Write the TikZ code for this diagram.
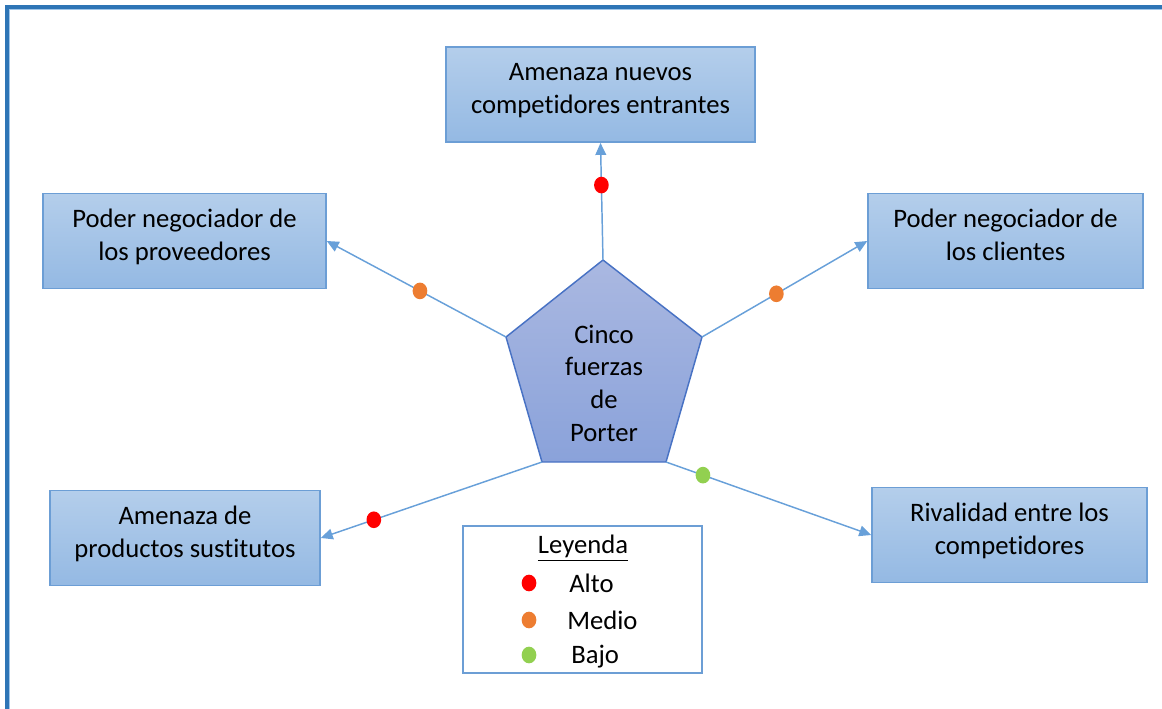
\documentclass[tikz,border=0pt]{standalone}
\usepackage{fontspec}
\setmainfont{Carlito}[Ligatures={NoCommon,NoContextual},Contextuals=NoAlternate]
\usetikzlibrary{arrows.meta,shapes.geometric}
\definecolor{boxtop}{RGB}{180,206,235}
\definecolor{boxbot}{RGB}{148,185,227}
\definecolor{boxline}{RGB}{108,158,213}
\definecolor{pentop}{RGB}{170,184,225}
\definecolor{penbot}{RGB}{138,162,218}
\definecolor{penline}{RGB}{72,114,196}
\definecolor{conector}{RGB}{104,160,217}
\definecolor{marco}{RGB}{46,117,182}
\definecolor{marcoclaro}{RGB}{160,197,232}
\definecolor{alto}{RGB}{255,0,0}
\definecolor{medio}{RGB}{237,125,49}
\definecolor{bajo}{RGB}{146,208,80}

\begin{document}
\begin{tikzpicture}[x=0.75pt,y=-0.75pt,
	texto/.style={align=center,inner sep=0pt,font=\fontsize{20}{24.5}\selectfont},
	fuerza/.style={texto,rectangle,draw=boxline,line width=1.1pt,top color=boxtop,bottom color=boxbot,minimum height=71.5pt,execute at end node={\rule[-9pt]{0pt}{1pt}}},
	pentagono/.style={draw=penline,line width=1.1pt,top color=pentop,bottom color=penbot,line join=round},
	flecha/.style={draw=conector,line width=1.1pt,-{Triangle[length=9pt,width=8pt]}},
	punto/.style={ellipse,inner sep=0pt,minimum width=11pt,minimum height=12.5pt},
	leyenda/.style={rectangle,draw=boxline,line width=1.1pt,fill=white}]
				\useasboundingbox (0,0) rectangle (1162,709);
				% marco
				\draw[marcoclaro,line width=0.9pt] (9.8,709) -- (9.8,9.8) -- (1162,9.8);
				\draw[marco,line width=2.6pt] (6.8,709) -- (6.8,6.8) -- (1162,6.8);
				
				\coordinate (p1) at (603,260);%arriba
				\coordinate (p2) at (702,337);%derecha
				\coordinate (p3) at (666,462);%abajo derecha
				\coordinate (p4) at (542,462);%abajo izquierda
				\coordinate (p5) at (506,337);%izquierda
				\path[pentagono] (p1) -- (p2) -- (p3) -- (p4) -- (p5) -- cycle;
				\node[texto] (porter) at (604,383) {Cinco\\fuerzas\\de\\Porter};
				
				\node[fuerza,minimum width=231.75pt] (entrantes) at (600.5,94.5) {Amenaza nuevos\\competidores entrantes};
				\node[fuerza,minimum width=212.25pt] (proveedores) at (184.5,241) {Poder negociador de\\los proveedores};
				\node[fuerza,minimum width=206.25pt] (clientes) at (1005.5,241) {Poder negociador de\\los clientes};
				\node[fuerza,minimum width=202.5pt] (sustitutos) at (185,538) {Amenaza de\\productos sustitutos};
				\node[fuerza,minimum width=206.25pt] (rivalidad) at (1009.5,535) {Rivalidad entre los\\competidores};
				
				\draw[flecha] (p1) -- node[punto,fill=alto,pos=0.64] (d1) {} (entrantes.south);
				\draw[flecha] (p5) -- node[punto,fill=medio,pos=0.48] (d2) {} (proveedores.east);
				\draw[flecha] (p2) -- node[punto,fill=medio,pos=0.45] (d3) {} (clientes.west);
				\draw[flecha] (p4) -- node[punto,fill=alto,pos=0.76] (d4) {} (sustitutos.east);
				\draw[flecha] (p3) -- node[punto,fill=bajo,pos=0.18] (d5) {} (rivalidad.west);
				
				% leyenda
				\node[leyenda,minimum width=179.25pt,minimum height=110.25pt] (ley) at (582.5,599.5) {};
				\node[texto] (titulo) at (583,548) {\underline{Leyenda}};
				\node[punto,fill=alto] (la) at (529,583) {};
				\node[punto,fill=medio] (lm) at (529,620) {};
				\node[punto,fill=bajo] (lb) at (529,655) {};
				\node[texto,anchor=west] (alto) at (569,583) {Alto};
				\node[texto,anchor=west] (medio) at (567,620) {Medio};
				\node[texto,anchor=west] (bajo) at (571,657) {Bajo};
			\end{tikzpicture}
\end{document}
